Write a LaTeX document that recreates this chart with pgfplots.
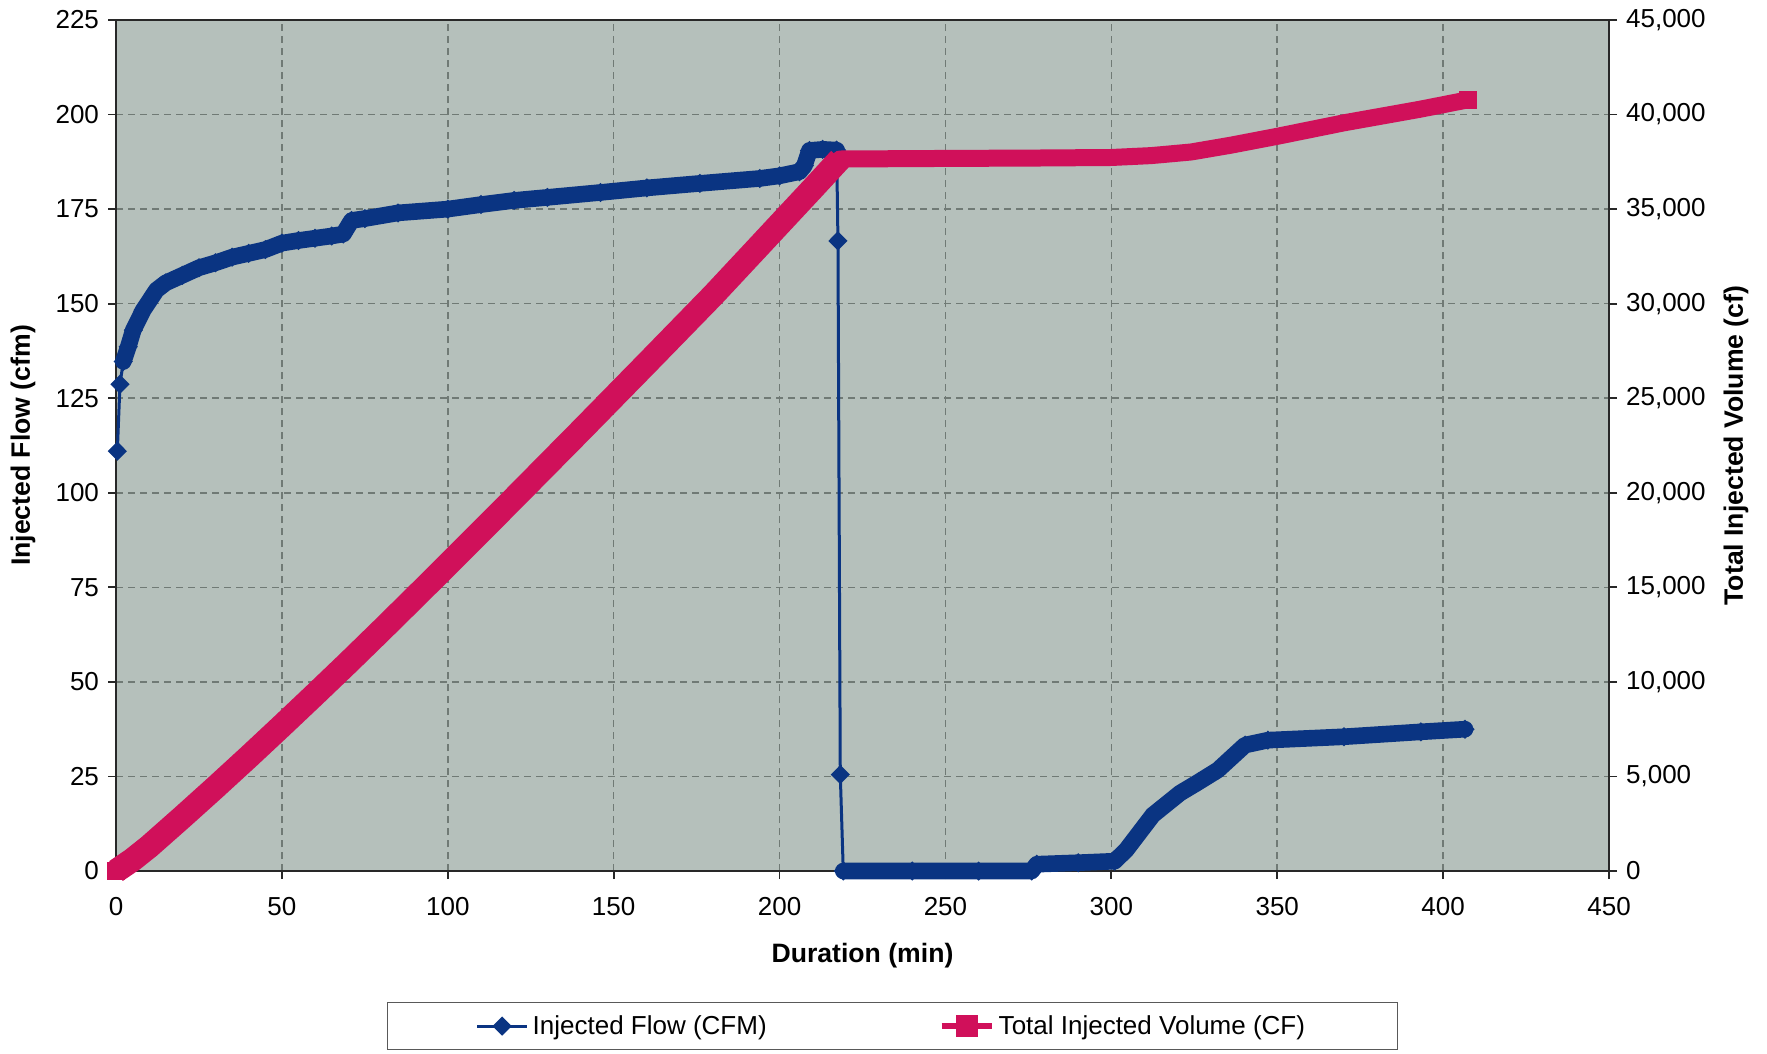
\documentclass[border=0pt]{standalone}
\usepackage{fontspec}
\setmainfont{Liberation Sans}
\usepackage{pgfplots}
\pgfplotsset{compat=1.18}
\definecolor{bgc}{RGB}{181,192,187}
\definecolor{gridc}{RGB}{112,122,117}
\definecolor{flowc}{RGB}{10,52,130}
\definecolor{volc}{RGB}{208,16,90}
\definecolor{axc}{RGB}{40,40,40}
\pgfplotsset{
 common/.style={
  scale only axis, width=746.5pt, height=425.5pt,
  xmin=0, xmax=450, clip=false,
  tick label style={font=\fontsize{13}{15}\selectfont},
  /pgf/number format/assume math mode=true,
  axis line style={axc, line width=0.9pt},
  major tick length=4pt, tick align=outside,
  tick style={axc, line width=0.9pt},
 }
}
\begin{document}
\begin{tikzpicture}
\begin{axis}[common,
 axis background/.style={fill=bgc},
 ymin=0, ymax=225, ytick distance=25, xtick distance=50,
 xtick pos=bottom, ytick pos=left,
 xticklabel style={yshift=-5.5pt},
 yticklabel style={xshift=-1pt},
 grid=major, major grid style={gridc, line width=0.8pt, dash pattern=on 3.5pt off 2.5pt},
 xlabel={Duration (min)}, ylabel={Injected Flow (cfm)},
 every axis x label/.style={at={(axis description cs:0.5,-0.0999)},anchor=center,font=\fontsize{13.3}{15}\selectfont\bfseries},
 every axis y label/.style={at={(axis description cs:-0.0623,0.5)},rotate=90,anchor=center,font=\fontsize{13.3}{15}\selectfont\bfseries},
 legend columns=2, legend cell align=left,
 legend style={at={(axis description cs:0.52,-0.154)}, anchor=north,
   draw=gray!70!black, line width=0.6pt, fill=white,
   font=\fontsize{13}{15}\selectfont, inner xsep=44pt, inner ysep=4.25pt,
   /tikz/every even column/.append style={column sep=84pt}},
 legend image code/.code={\draw[mark repeat=2,mark phase=2,#1] plot coordinates {(0pt,0pt) (12.5pt,0pt) (25pt,0pt)};},
]
\coordinate (BB1) at (axis description cs:-0.0777,-0.2139);
\coordinate (BB2) at (axis description cs:1.1058,1.0235);
\addplot[flowc, line width=1.5pt, mark=diamond*, mark size=3.75pt, mark options={xscale=1.33, solid}] coordinates {
(0.4,111.0) (1.2,128.7) (2.2,134.7) (3.7,138.6) (5.2,143.0) (8.2,148.3) (12.2,153.6) (15,155.5) (20,157.5) (25,159.5) (30,160.8) (35,162.3) (40,163.3) (45,164.3) (50,166.0) (55,166.7) (60,167.3) (65,167.9) (68.5,168.4) (71,172.0) (75,172.5) (85,174.0) (100,175.0) (110,176.2) (120,177.3) (130,178.1) (146,179.4) (160,180.6) (176,181.8) (194,183.1) (200,183.8) (206,184.9) (207.5,186.5) (209,190.5) (213,190.8) (217.2,190.6) (217.6,166.6) (218.3,25.5) (219.2,0) (240,0) (260,0) (276,0) (277.5,1.8) (290,2.2) (301,2.6) (304.5,5.6) (312.5,14.8) (320.7,20.6) (326.4,23.6) (332.1,26.7) (340.3,33.3) (347.2,34.6) (370.1,35.5) (393.3,36.8) (406.6,37.5)
};
\addlegendentry{Injected Flow (CFM)}
\addplot[flowc, line width=8.3pt, line cap=round, line join=round, forget plot] coordinates {
(2.2,134.7) (3.7,138.6) (5.2,143.0) (8.2,148.3) (12.2,153.6) (15,155.5) (20,157.5) (25,159.5) (30,160.8) (35,162.3) (40,163.3) (45,164.3) (50,166.0) (55,166.7) (60,167.3) (65,167.9) (68.5,168.4) (71,172.0) (75,172.5) (85,174.0) (100,175.0) (110,176.2) (120,177.3) (130,178.1) (146,179.4) (160,180.6) (176,181.8) (194,183.1) (200,183.8) (206,184.9) (207.5,186.5) (209,190.5) (213,190.8) (217.2,190.6)
};
\addplot[flowc, line width=8.3pt, line cap=round, line join=round, forget plot] coordinates {
(219.2,0) (240,0) (260,0) (276,0) (277.5,1.8) (290,2.2) (301,2.6) (304.5,5.6) (312.5,14.8) (320.7,20.6) (326.4,23.6) (332.1,26.7) (340.3,33.3) (347.2,34.6) (370.1,35.5) (393.3,36.8) (406.6,37.5)
};
\addlegendimage{volc, line width=3pt, mark=square*, mark size=4pt, mark options={solid}}
\addlegendentry{Total Injected Volume (CF)}
\end{axis}
\begin{axis}[common,
 axis x line=none, axis y line*=right,
 ymin=0, ymax=45000, ytick distance=5000, scaled y ticks=false,
 yticklabel style={xshift=1pt, /pgf/number format/.cd, 1000 sep={,}},
 ylabel={Total Injected Volume (cf)},
 every axis y label/.style={at={(axis description cs:1.085,0.5)},rotate=90,anchor=center,font=\fontsize{13.3}{15}\selectfont\bfseries},
]
\addplot[volc, line width=8.5pt, line join=round] coordinates {
(0,0) (1,120) (5,600) (10,1300) (20,2850) (30,4430) (40,6040) (50,7680) (60,9340) (70,11020) (80,12730) (90,14460) (100,16200) (120,19720) (140,23270) (160,26850) (180,30450) (194,33080) (200,34210) (210,36090) (218.2,37650) (250,37680) (276,37700) (300,37730) (312,37830) (324,38020) (336,38380) (350,38850) (370,39560) (393,40280) (407.5,40780)
};
\addplot[volc, line width=12pt, line cap=butt, line join=round] coordinates {
(0,0) (1,120) (5,600) (10,1300) (20,2850) (30,4430) (40,6040) (50,7680) (60,9340) (70,11020) (80,12730) (90,14460) (100,16200) (120,19720) (140,23270) (160,26850) (180,30450) (194,33080) (200,34210) (210,36090) (218.2,37650)
};
\addplot[volc, only marks, mark=square*, mark size=4.25pt] coordinates {(0,0) (407.5,40780)};
\end{axis}
\pgfresetboundingbox
\path[use as bounding box] (BB1) rectangle (BB2);
\end{tikzpicture}
\end{document}
